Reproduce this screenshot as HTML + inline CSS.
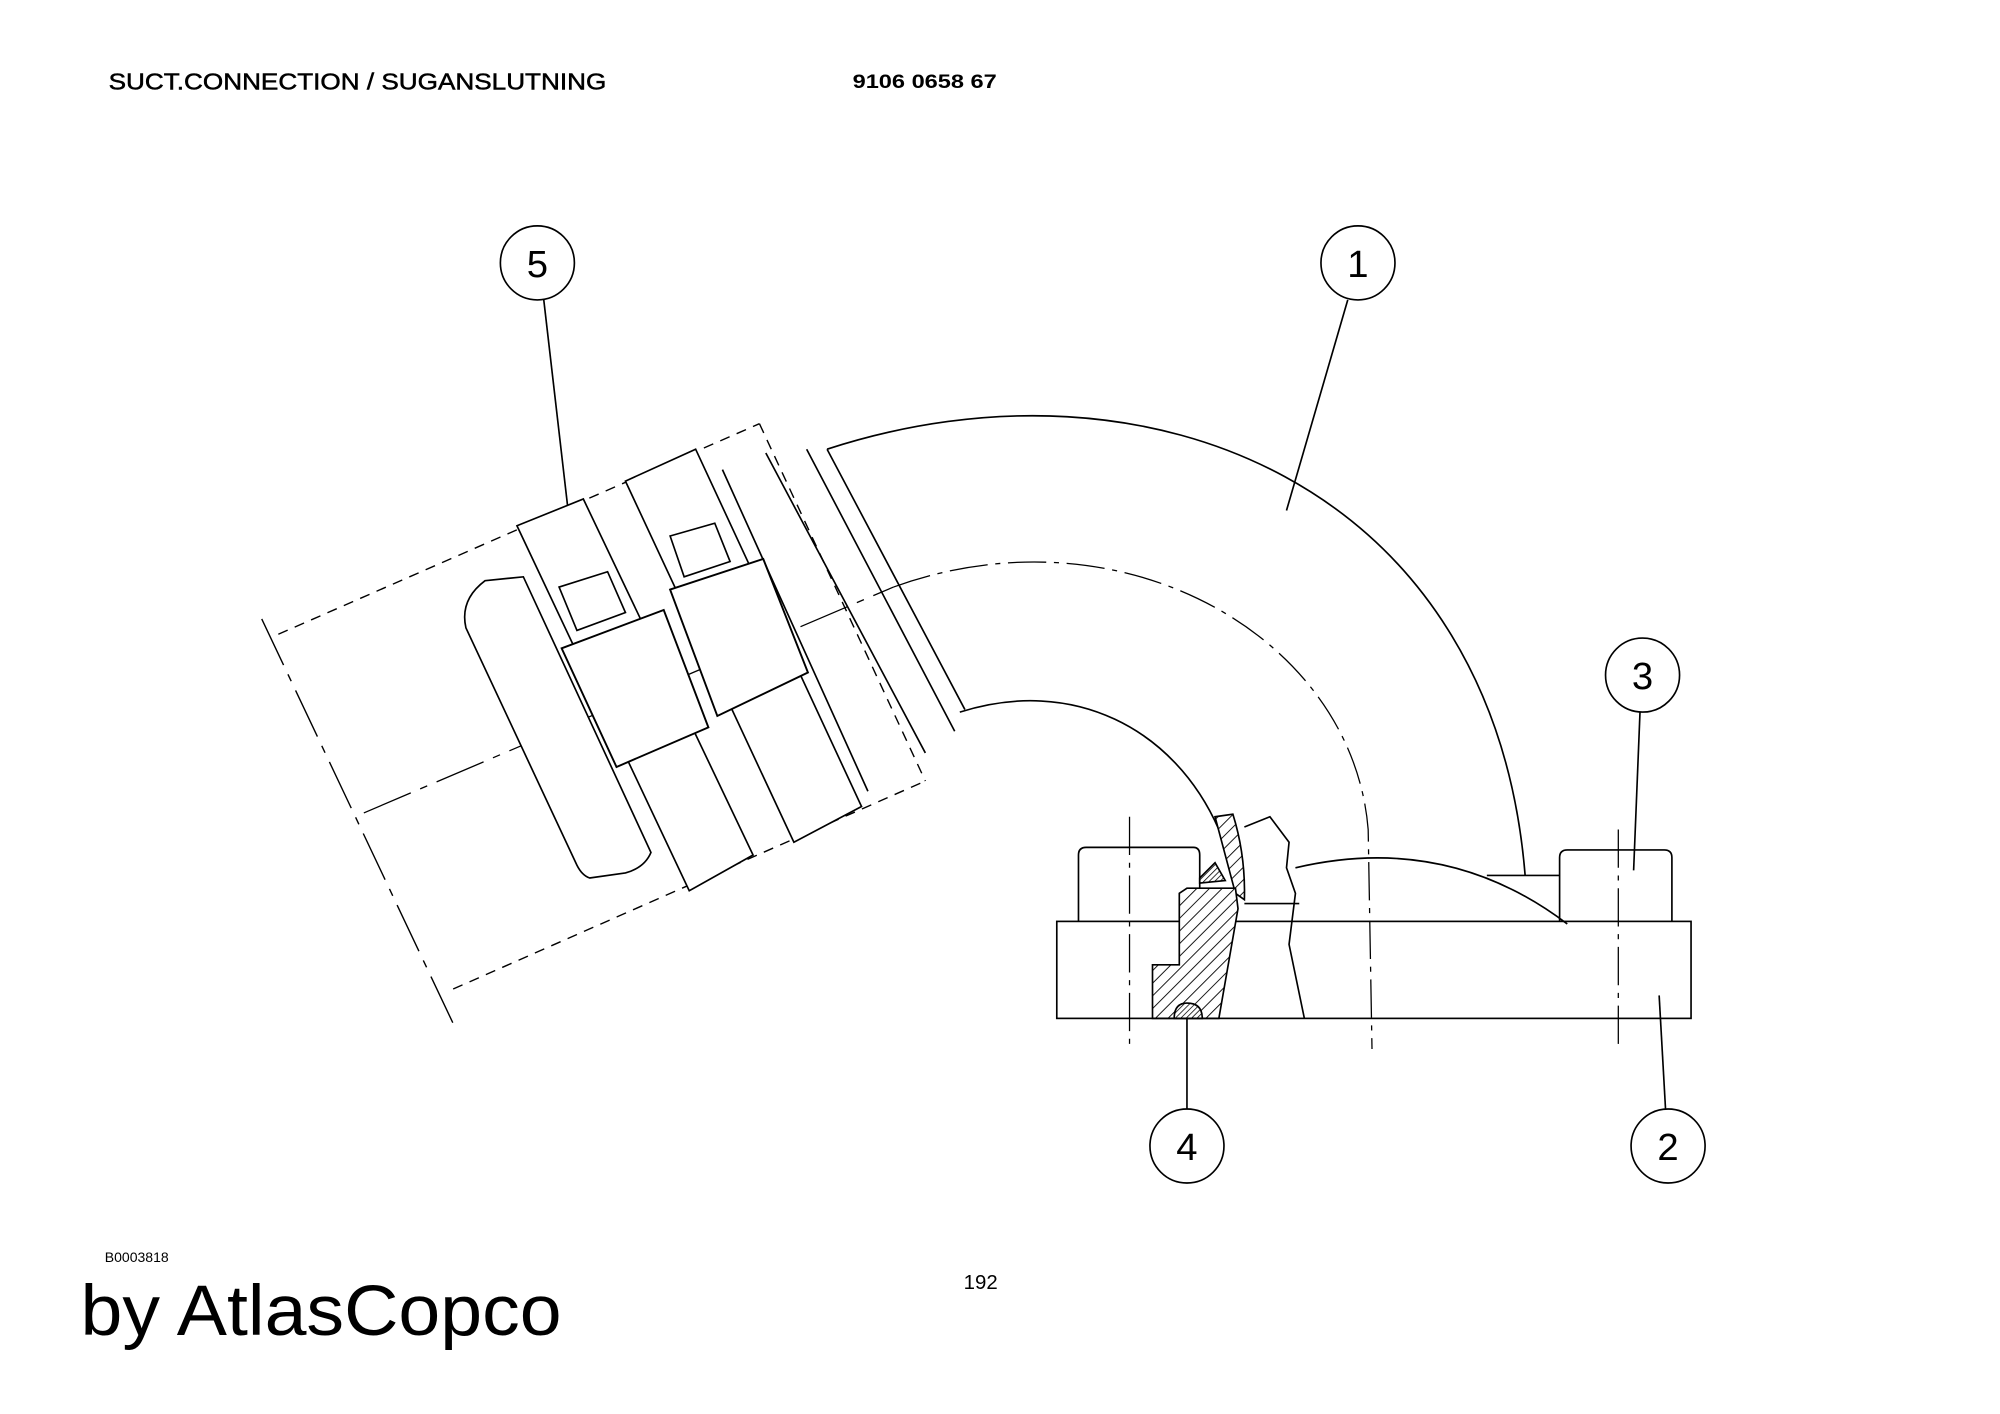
<!DOCTYPE html>
<html><head><meta charset="utf-8"><style>
html,body{margin:0;padding:0;background:#fff;}
svg{display:block}
</style></head><body>
<svg width="2000" height="1414" viewBox="0 0 1567 1108" xmlns="http://www.w3.org/2000/svg">
<defs>
<pattern id="h" width="7" height="7" patternUnits="userSpaceOnUse" patternTransform="rotate(45)"><rect width="7" height="7" fill="#fff"/><line x1="0" y1="0" x2="0" y2="7" stroke="#000" stroke-width="1.4"/></pattern>
<pattern id="h2" width="3" height="3" patternUnits="userSpaceOnUse" patternTransform="rotate(45)"><rect width="3" height="3" fill="#fff"/><line x1="0" y1="0" x2="0" y2="3" stroke="#000" stroke-width="1.2"/></pattern>
</defs>
<g font-family="Liberation Sans, sans-serif" fill="#000">
<text x="85" y="70" font-size="18" stroke="#000" stroke-width="0.4" textLength="390" lengthAdjust="spacingAndGlyphs">SUCT.CONNECTION / SUGANSLUTNING</text>
<text x="668" y="69" font-size="15" font-weight="bold" textLength="113" lengthAdjust="spacingAndGlyphs">9106 0658 67</text>
<text x="82" y="989" font-size="11">B0003818</text>
<text x="755" y="1010" font-size="16">192</text>
<text x="63" y="1046" font-size="56" textLength="377" lengthAdjust="spacingAndGlyphs">by AtlasCopco</text>
<g font-size="30" text-anchor="middle" font-weight="normal">
<text x="421" y="217">5</text><text x="1064" y="217">1</text>
<text x="1287" y="540">3</text><text x="930" y="909">4</text><text x="1307" y="909">2</text>
</g>
</g>
<g fill="none" stroke="#000" stroke-width="1.3">
<circle cx="421" cy="206" r="29"/><circle cx="1064" cy="206" r="29"/>
<circle cx="1287" cy="529" r="29"/><circle cx="930" cy="898" r="29"/><circle cx="1307" cy="898" r="29"/>
<line x1="426" y1="235" x2="446" y2="408"/>
<line x1="1056" y1="235" x2="1008" y2="400"/>
<line x1="1285" y1="558" x2="1280" y2="682"/>
<line x1="930" y1="869" x2="930" y2="795"/>
<line x1="1305" y1="869" x2="1300" y2="780"/>
<path d="M648,352 C900,270 1170,380 1195,686"/>
<path d="M752,558 C840,530 920,570 955,650"/>
<path d="M700,460 C880,395 1060,500 1072,650 L1075,822" stroke-dasharray="30,6,4,6" stroke-width="1"/>
<path d="M632,352 L748,573 M648,352 L756,556 M600,355 L725,590 M566,368 L680,620"/>
<rect x="828" y="722" width="497" height="76"/>
<path d="M845,722 V670 Q845,664 851,664 H935 Q940,664 940,670 V722"/>
<path d="M1222,722 V672 Q1222,666 1228,666 H1304 Q1310,666 1310,672 V722"/>
<path d="M1015,680 C1100,660 1170,680 1228,724"/>
<line x1="1165" y1="686" x2="1222" y2="686"/>
<line x1="975" y1="708" x2="1018" y2="708"/>
<path d="M975,648 L995,640 L1010,660 L1008,680 L1015,700 L1010,740 L1022,798" />
<g stroke-dasharray="30,6,4,6" stroke-width="1">
<line x1="885" y1="640" x2="885" y2="820"/>
<line x1="1268" y1="650" x2="1268" y2="820"/>
</g>
<path d="M952,640 L966,638 Q976,670 975,705 L968,700 Z" fill="url(#h)"/>
<path d="M940,688 L952,676 L960,690 L940,692 Z" fill="url(#h2)"/>
<path d="M930,696 L968,696 L970,712 L955,798 L903,798 L903,756 L924,756 L924,700 Z" fill="url(#h)"/>
<path d="M920,798 Q920,786 930,786 Q942,786 942,798 Z" fill="url(#h2)"/>
<g stroke-dasharray="8,6" stroke-width="1.1">
<line x1="218" y1="497" x2="595" y2="332"/>
<line x1="595" y1="332" x2="725" y2="612"/>
<line x1="355" y1="775" x2="725" y2="612"/>
</g>
<line x1="205" y1="485" x2="355" y2="802" stroke-dasharray="40,8,6,8" stroke-width="1.1"/>
<line x1="285" y1="637" x2="700" y2="460" stroke-dasharray="40,8,6,8" stroke-width="1"/>
<path d="M380,455 L410,452 L510,668 Q505,680 490,684 L462,688 Q456,686 452,678 L365,492 Q360,470 380,455 Z" fill="#fff"/>
<path d="M405,412 L457,391 L590,670 L540,698 Z" fill="#fff"/>
<path d="M490,377 L545,352 L675,632 L622,660 Z" fill="#fff"/>
<path d="M438,460 L476,448 L490,480 L452,494 Z" fill="#fff"/>
<path d="M525,420 L560,410 L572,440 L536,452 Z" fill="#fff"/>
<path d="M440,508 L520,478 L555,570 L483,601 Z" fill="#fff" stroke-width="1.5"/>
<path d="M525,462 L598,438 L633,527 L562,561 Z" fill="#fff" stroke-width="1.5"/>
</g>
</svg>
</body></html>
